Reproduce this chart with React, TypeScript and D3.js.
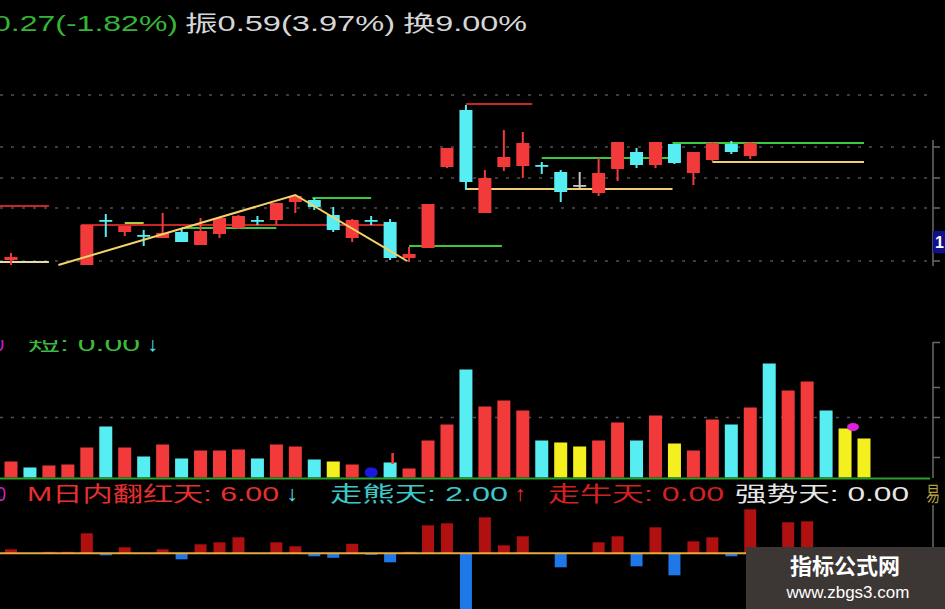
import React from 'react';
import * as d3 from 'd3';

const W = 945;
const H = 609;

// ---------- candle data (price) ----------
const candleIndex = [0, 4, 5, 6, 7, 8, 9, 10, 11, 12, 13, 14, 15, 16, 17, 18, 19, 20, 21, 22, 23, 24, 25, 26, 27, 28, 29, 30, 31, 32, 33, 34, 35, 36, 37, 38, 39];
const opens = [13.05, 13.0, 13.45, 13.33, 13.3, 13.27, 13.33, 13.2, 13.31, 13.37, 13.45, 13.45, 13.63, 13.65, 13.5, 13.27, 13.45, 13.43, 13.07, 13.17, 13.98, 14.55, 13.52, 13.98, 13.99, 14.0, 13.93, 13.8, 13.72, 13.96, 14.13, 14.0, 14.21, 13.92, 14.05, 14.21, 14.09];
const highs = [13.12, 13.4, 13.51, 13.39, 13.35, 13.52, 13.37, 13.47, 13.47, 13.5, 13.49, 13.62, 13.7, 13.67, 13.58, 13.46, 13.49, 13.46, 13.18, 13.61, 14.17, 14.6, 13.95, 14.35, 14.33, 14.03, 13.95, 13.93, 14.07, 14.23, 14.17, 14.23, 14.21, 14.13, 14.23, 14.24, 14.23];
const lows = [13.0, 13.0, 13.28, 13.29, 13.19, 13.27, 13.23, 13.2, 13.27, 13.36, 13.4, 13.4, 13.52, 13.55, 13.33, 13.23, 13.4, 13.05, 13.03, 13.17, 13.97, 13.75, 13.52, 13.94, 13.87, 13.91, 13.63, 13.77, 13.69, 13.84, 13.97, 13.97, 14.01, 13.8, 14.04, 14.11, 14.06];
const closes = [13.08, 13.4, 13.44, 13.39, 13.29, 13.32, 13.23, 13.34, 13.47, 13.49, 13.44, 13.62, 13.69, 13.58, 13.35, 13.45, 13.44, 13.07, 13.11, 13.61, 14.17, 13.83, 13.87, 14.08, 14.22, 13.99, 13.73, 13.8, 13.92, 14.23, 14.0, 14.23, 14.02, 14.13, 14.22, 14.13, 14.22];

// level lines: [startIndex, endIndex, price]
const redLevels = [[-1, 2, 13.59], [3.7, 20, 13.4], [24, 27.5, 14.61]];
const paleLevels = [[-1, 2, 13.03]];
const greenLevels = [[9, 14, 13.37], [15.9, 19, 13.67], [21, 25.9, 13.19], [28, 34.9, 14.07], [34.9, 45, 14.22]];
const limeLevels = [[6, 7, 13.42]];
const yellowLevels = [[24, 34.9, 13.76], [37, 45, 14.03]];
const zigzag = [[2.5, 13.0], [15, 13.7], [20.9, 13.04]];
const priceGrid = [14.7, 14.18, 13.87, 13.57, 13.04];
const priceTicks = [14.18, 13.87, 13.57, 13.04];

// ---------- volume ----------
const volumes = [16, 10, 12, 13, 30, 51, 30, 21, 33, 19, 27, 27, 28, 19, 33, 31, 18, 16, 13, 10, 15, 9, 37, 53, 108, 71, 77, 67, 37, 35, 31, 37, 55, 37, 62, 34, 27, 58, 53, 70, 114, 87, 96, 67, 49, 39];
const volKinds = ['r', 'c', 'r', 'r', 'r', 'c', 'r', 'c', 'r', 'c', 'r', 'r', 'r', 'c', 'r', 'r', 'c', 'y', 'r', 'b', 'c', 'r', 'r', 'r', 'c', 'r', 'r', 'r', 'c', 'y', 'y', 'r', 'r', 'c', 'r', 'y', 'r', 'r', 'c', 'r', 'c', 'r', 'r', 'c', 'y', 'y'];
const volGrid = [60];
const volTicks = [135, 90, 60, 20];

// ---------- bottom oscillator ----------
const oscValues = [4, 0, 1.5, 1.5, 20, -2, 6, 0, 4, -6, 9, 11, 16, 0, 11, 7, -3, -4.5, 9.5, -1.5, -9, 1.5, 28, 30, -60, 36, 8, 17, 0, -14, 0, 11, 17, -13, 26, -22, 12, 16, -3, 44, 0, 31, 32, 0, 0, 0];

// ---------- texts ----------
const headerTexts = [
  { t: '0.27(-1.82%)', x: -7, len: 185, c: '#35b435' },
  { t: '振0.59(3.97%)', x: 185, len: 210, c: '#d6d6d6' },
  { t: '换9.00%', x: 403, len: 124, c: '#d6d6d6' },
];
const legendTexts = [
  { t: '0', x: -4, len: 10, c: '#cc22cc' },
  { t: 'M日内翻红天: 6.00', x: 27, len: 252, c: '#e63030' },
  { t: '↓', x: 286, len: 12, c: '#55e0e8' },
  { t: '走熊天: 2.00', x: 330, len: 178, c: '#3cc8c8' },
  { t: '↑', x: 514, len: 12, c: '#e63030' },
  { t: '走牛天: 0.00', x: 548, len: 176, c: '#d42020' },
  { t: '强势天: 0.00', x: 735, len: 174, c: '#e6e6e6' },
  { t: '易', x: 926, len: 14, c: '#b8a040' },
];
const volTexts = [
  { t: '0', x: -6, len: 10, c: '#cc22cc' },
  { t: '短: 0.00', x: 28, len: 112, c: '#3fb83f' },
  { t: '↓', x: 147, len: 11, c: '#55e0e8' },
];

const RED = '#f23a3a';
const CYAN = '#56eef2';
const YEL = '#f4f020';
const BLUE = '#1818e0';
const FONT = "'Liberation Sans', Arial, 'Noto Sans CJK SC', sans-serif";

export default function App() {
  const x = d3.scaleLinear().domain([0, 45]).range([11, 864]);
  const yP = d3.scaleLinear().domain([13.0, 14.7]).range([265, 95]);
  const yV = d3.scaleLinear().domain([0, 120]).range([477.5, 357.5]);
  const yO = d3.scaleLinear().domain([-60, 50]).range([613.3, 503.3]);
  const bw = 13;
  const axisX = 933;

  const zz = d3.line<number[]>().x((d) => x(d[0])).y((d) => yP(d[1]));

  const levelLines = (arr: number[][], color: string, key: string) =>
    arr.map((l, i) => (
      <line key={key + i} x1={x(l[0])} x2={x(l[1])} y1={yP(l[2])} y2={yP(l[2])} stroke={color} strokeWidth={2} />
    ));

  const volColor = (k: string) => (k === 'r' ? RED : k === 'c' ? CYAN : k === 'y' ? YEL : BLUE);

  return (
    <svg width={W} height={H} style={{ position: 'absolute', left: 0, top: 0, background: '#000' }} fontFamily={FONT}>
      <defs>
        <clipPath id="volTextClip">
          <rect x={0} y={340} width={W} height={20} />
        </clipPath>
      </defs>
      <rect x={0} y={0} width={W} height={H} fill="#000" />

      {/* header */}
      {headerTexts.map((h, i) => (
        <text key={'h' + i} x={h.x} y={31} fontSize={22} fill={h.c} textLength={h.len} lengthAdjust="spacingAndGlyphs">
          {h.t}
        </text>
      ))}

      {/* price grid */}
      {priceGrid.map((p, i) => (
        <line key={'pg' + i} x1={0} x2={930} y1={yP(p)} y2={yP(p)} stroke="#505050" strokeWidth={1.5} strokeDasharray="3,8" />
      ))}
      <line x1={axisX} x2={axisX} y1={140} y2={266} stroke="#6a6a6a" strokeWidth={1.5} />
      {priceTicks.map((p, i) => (
        <line key={'pt' + i} x1={axisX} x2={axisX + 7} y1={yP(p)} y2={yP(p)} stroke="#6a6a6a" strokeWidth={1.5} />
      ))}
      <rect x={axisX} y={231} width={14} height={22} fill="#10108c" />
      <text x={axisX + 2} y={248} fontSize={16} fontWeight="bold" fill="#ffffff">1</text>

      {/* level lines */}
      {levelLines(redLevels, '#c42626', 'rl')}
      {levelLines(paleLevels, '#e4dca8', 'pl')}
      {levelLines(greenLevels, '#3cc83c', 'gl')}
      {levelLines(limeLevels, '#a8d040', 'll')}
      {levelLines(yellowLevels, '#eed070', 'yl')}

      {/* candles */}
      {candleIndex.map((ci, k) => {
        const o = opens[k], c = closes[k], h = highs[k], l = lows[k];
        const color = c > o ? RED : c < o ? CYAN : '#c8c8c8';
        const cx = x(ci);
        const top = yP(Math.max(o, c));
        const bot = yP(Math.min(o, c));
        const bh = Math.max(1.8, bot - top);
        return (
          <g key={'c' + k}>
            <line x1={cx} x2={cx} y1={yP(h)} y2={yP(l)} stroke={color} strokeWidth={2} />
            <rect x={cx - bw / 2} y={top} width={bw} height={bh} fill={color} />
          </g>
        );
      })}

      {/* zigzag */}
      <path d={zz(zigzag) || ''} fill="none" stroke="#f2d46a" strokeWidth={2} />

      {/* volume panel */}
      <g clipPath="url(#volTextClip)">
        {volTexts.map((h, i) => (
          <text key={'vt' + i} x={h.x} y={351} fontSize={20} fill={h.c} textLength={h.len} lengthAdjust="spacingAndGlyphs">
            {h.t}
          </text>
        ))}
      </g>
      {volGrid.map((v, i) => (
        <line key={'vg' + i} x1={0} x2={930} y1={yV(v)} y2={yV(v)} stroke="#505050" strokeWidth={1.5} strokeDasharray="3,8" />
      ))}
      {volumes.map((v, i) => (
        <rect
          key={'v' + i}
          x={x(i) - bw / 2}
          y={yV(v)}
          width={bw}
          height={yV(0) - yV(v)}
          fill={volColor(volKinds[i])}
          rx={volKinds[i] === 'b' ? 5 : 0}
        />
      ))}
      <line x1={x(20) + 2.5} x2={x(20) + 2.5} y1={453} y2={464} stroke={RED} strokeWidth={2.5} />
      <ellipse cx={853} cy={427} rx={6} ry={4} fill="#e020e0" />
      <line x1={0} x2={930} y1={yV(0) + 1} y2={yV(0) + 1} stroke="#2ca02c" strokeWidth={2} />
      <line x1={axisX} x2={axisX} y1={342} y2={478} stroke="#6a6a6a" strokeWidth={1.5} />
      {volTicks.map((v, i) => (
        <line key={'vtk' + i} x1={axisX} x2={axisX + 7} y1={yV(v)} y2={yV(v)} stroke="#6a6a6a" strokeWidth={1.5} />
      ))}

      {/* legend row */}
      {legendTexts.map((h, i) => (
        <text key={'lg' + i} x={h.x} y={501} fontSize={21} fill={h.c} textLength={h.len} lengthAdjust="spacingAndGlyphs">
          {h.t}
        </text>
      ))}

      {/* oscillator */}
      {oscValues.map((v, i) =>
        v === 0 ? null : (
          <rect
            key={'o' + i}
            x={x(i) - 6}
            y={v > 0 ? yO(v) : yO(0)}
            width={12}
            height={Math.abs(yO(v) - yO(0))}
            fill={v > 0 ? '#b01010' : '#1f78e8'}
          />
        )
      )}
      <line x1={0} x2={W} y1={yO(0)} y2={yO(0)} stroke="#e8a83a" strokeWidth={2} />
      <line x1={axisX} x2={axisX} y1={505} y2={609} stroke="#6a6a6a" strokeWidth={1.5} />

      {/* watermark */}
      <rect x={746} y={547} width={199} height={62} fill="#3c3634" />
      <text x={845} y={574} fontSize={22} fontWeight="bold" fill="#ffffff" textAnchor="middle" fontFamily="'Noto Sans CJK SC', sans-serif">
        指标公式网
      </text>
      <text x={848} y={598} fontSize={17} fill="#ffffff" textAnchor="middle" fontFamily="'Liberation Sans', Arial, sans-serif">
        www.zbgs3.com
      </text>
    </svg>
  );
}
